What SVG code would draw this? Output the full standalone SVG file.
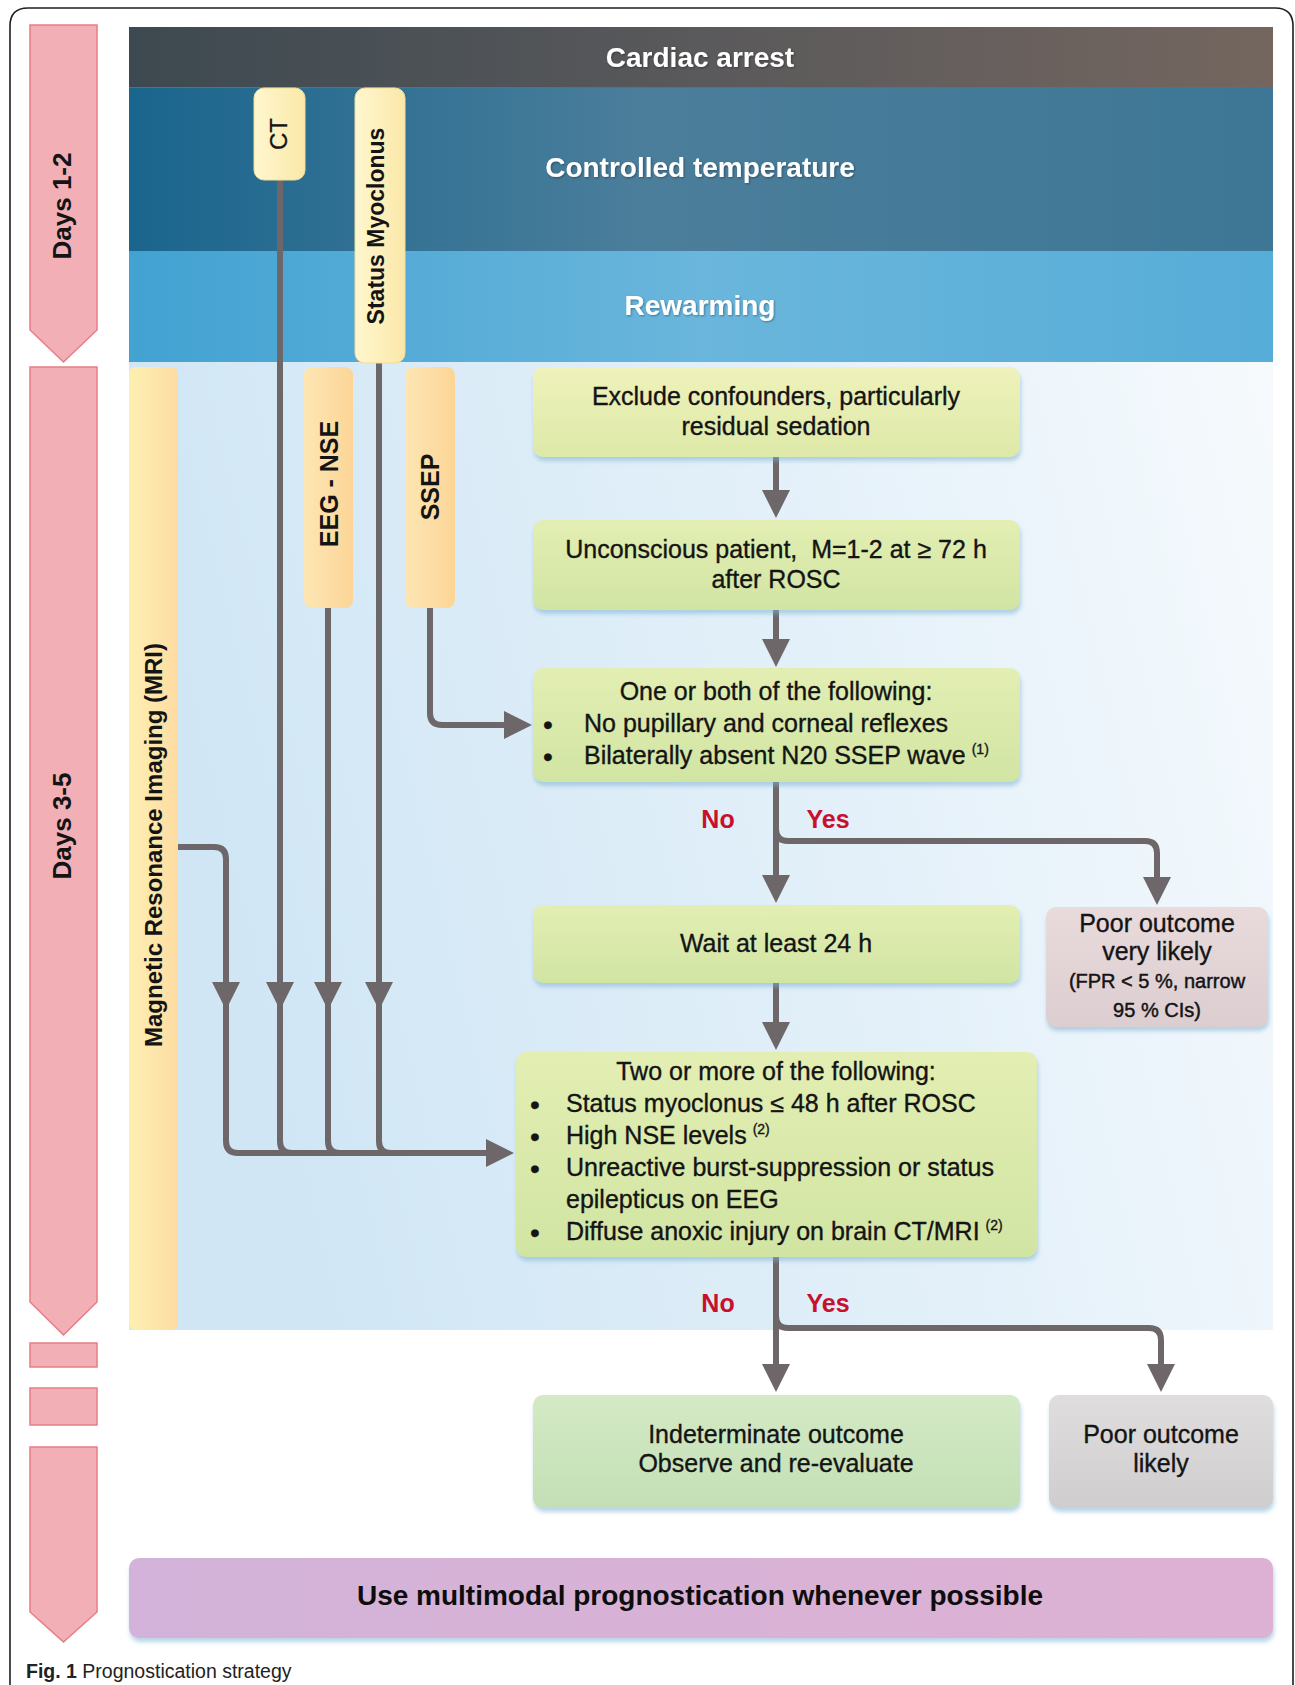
<svg xmlns="http://www.w3.org/2000/svg" width="1295" height="1685" viewBox="0 0 1295 1685">
<style>
  text { font-family: "Liberation Sans", Arial, sans-serif; fill: #141414; }
  .hdr { font-weight: bold; font-size: 28px; fill: #ffffff; text-anchor: middle; }
  .bx { font-size: 25px; stroke: #141414; stroke-width: 0.35px; }
  .c { text-anchor: middle; }
  .sm { font-size: 20px; stroke: #141414; stroke-width: 0.45px; }
  .sup { font-size: 14px; }
  .bl { font-size: 28px; }
  .yn { font-weight: bold; font-size: 25px; fill: #c8102e; text-anchor: middle; }
  .tag { font-size: 24px; font-weight: bold; text-anchor: middle; }
  .tagr { font-size: 24px; text-anchor: middle; stroke: #141414; stroke-width: 0.3px; }
  .day { font-size: 26px; font-weight: bold; text-anchor: middle; }
  .bar { font-weight: bold; font-size: 28px; text-anchor: middle; fill: #0d0d0d; }
  .cap { font-size: 19.5px; fill: #222; }
  .ln { fill: none; stroke: #6d6769; stroke-width: 6; stroke-linejoin: round; }
  .arw { marker-end: url(#ah); }
  .daysh { fill: #f2afb5; stroke: #e97c86; stroke-width: 1.5; }
  .box { filter: url(#sh); }
</style>
<defs>
  <marker id="ah" viewBox="0 0 28 28" refX="4" refY="14" markerWidth="28" markerHeight="28" markerUnits="userSpaceOnUse" orient="auto">
    <path d="M0,0 L28,14 L0,28 Z" fill="#6d6769"/>
  </marker>
  <filter id="sh" x="-5%" y="-5%" width="110%" height="120%">
    <feDropShadow dx="1" dy="4" stdDeviation="2" flood-color="#7fb3d3" flood-opacity="0.55"/>
  </filter>
  <filter id="ts" x="-5%" y="-20%" width="110%" height="140%">
    <feDropShadow dx="1" dy="1" stdDeviation="1" flood-color="#000" flood-opacity="0.35"/>
  </filter>
  <linearGradient id="gCardiac" x1="0" y1="0" x2="1" y2="0">
    <stop offset="0" stop-color="#3d4950"/>
    <stop offset="0.5" stop-color="#5a595b"/>
    <stop offset="1" stop-color="#74665f"/>
  </linearGradient>
  <linearGradient id="gTemp" x1="0" y1="0" x2="1" y2="0">
    <stop offset="0" stop-color="#1a658d"/>
    <stop offset="0.45" stop-color="#4b7e9b"/>
    <stop offset="1" stop-color="#3d7795"/>
  </linearGradient>
  <linearGradient id="gRewarm" x1="0" y1="0" x2="1" y2="0">
    <stop offset="0" stop-color="#42a2d2"/>
    <stop offset="0.5" stop-color="#6ab6dc"/>
    <stop offset="1" stop-color="#56add8"/>
  </linearGradient>
  <linearGradient id="gBg" x1="0" y1="0.2" x2="1" y2="0">
    <stop offset="0" stop-color="#d0e6f5"/>
    <stop offset="0.55" stop-color="#e3f0f9"/>
    <stop offset="1" stop-color="#f6fafd"/>
  </linearGradient>
  <linearGradient id="gY" x1="0" y1="0" x2="0" y2="1">
    <stop offset="0" stop-color="#eff2bb"/>
    <stop offset="1" stop-color="#dde9a8"/>
  </linearGradient>
  <linearGradient id="gG" x1="0" y1="0" x2="0" y2="1">
    <stop offset="0" stop-color="#e3eeb3"/>
    <stop offset="1" stop-color="#d1e5a3"/>
  </linearGradient>
  <linearGradient id="gMint" x1="0" y1="0" x2="0" y2="1">
    <stop offset="0" stop-color="#d4eac6"/>
    <stop offset="1" stop-color="#c3dfb5"/>
  </linearGradient>
  <linearGradient id="gPink" x1="0" y1="0" x2="0" y2="1">
    <stop offset="0" stop-color="#e9dadc"/>
    <stop offset="1" stop-color="#dccdd0"/>
  </linearGradient>
  <linearGradient id="gGray" x1="0" y1="0" x2="0" y2="1">
    <stop offset="0" stop-color="#dfdddd"/>
    <stop offset="1" stop-color="#cfcdce"/>
  </linearGradient>
  <linearGradient id="gPurple" x1="0" y1="0" x2="1" y2="0">
    <stop offset="0" stop-color="#d3b3d9"/>
    <stop offset="1" stop-color="#ddb1d3"/>
  </linearGradient>
  <linearGradient id="gPeach" x1="0" y1="0" x2="1" y2="0">
    <stop offset="0" stop-color="#fde6b3"/>
    <stop offset="1" stop-color="#fcd597"/>
  </linearGradient>
  <linearGradient id="gCream" x1="0" y1="0" x2="1" y2="0">
    <stop offset="0" stop-color="#fff7cf"/>
    <stop offset="1" stop-color="#fbe8a8"/>
  </linearGradient>
  <linearGradient id="gMRI" x1="0" y1="0" x2="1" y2="0">
    <stop offset="0" stop-color="#fdf0b2"/>
    <stop offset="1" stop-color="#fddca2"/>
  </linearGradient>
</defs>

<rect x="0" y="0" width="1295" height="1685" fill="#ffffff"/>
<path d="M10,1685 V26 Q10,8 28,8 H1275 Q1293,8 1293,26 V1685" fill="none" stroke="#1e1e1e" stroke-width="1.6"/>

<!-- Day arrows -->
<g id="days-1-2">
  <path class="daysh" d="M30,25 H97 V330 L63.5,362 L30,330 Z"/>
  <text class="day" transform="translate(71,206) rotate(-90)">Days 1-2</text>
</g>
<g id="days-3-5">
  <path class="daysh" d="M30,367 H97 V1302 L63.5,1335 L30,1302 Z"/>
  <text class="day" transform="translate(71,826) rotate(-90)">Days 3-5</text>
</g>
<g id="days-gap">
  <rect class="daysh" x="30" y="1343" width="67" height="24"/>
  <rect class="daysh" x="30" y="1388" width="67" height="37"/>
  <path class="daysh" d="M30,1447 H97 V1612 L63.5,1642 L30,1612 Z"/>
</g>

<!-- Phase bands -->
<g id="band-cardiac-arrest">
  <rect x="129" y="27" width="1144" height="61" fill="url(#gCardiac)"/>
  <line x1="129" y1="87.5" x2="1273" y2="87.5" stroke="#8b5e5a" stroke-width="1.2"/>
  <text class="hdr" x="700" y="67" filter="url(#ts)">Cardiac arrest</text>
</g>
<g id="band-controlled-temperature">
  <rect x="129" y="88" width="1144" height="163" fill="url(#gTemp)"/>
  <text class="hdr" x="700" y="177" filter="url(#ts)">Controlled temperature</text>
</g>
<g id="band-rewarming">
  <rect x="129" y="251" width="1144" height="111" fill="url(#gRewarm)"/>
  <text class="hdr" x="700" y="315" filter="url(#ts)">Rewarming</text>
</g>

<g id="days-3-5-area">
  <rect x="129" y="362" width="1144" height="968" fill="url(#gBg)"/>
</g>

<!-- Connectors -->
<g id="connectors">
  <path class="ln arw" d="M776,457 V494"/>
  <path class="ln arw" d="M776,610 V643"/>
  <path class="ln arw" d="M430,608 V713 Q430,725 442,725 H508"/>
  <path class="ln arw" d="M776,782 V879"/>
  <path class="ln arw" d="M776,829 Q776,841 788,841 H1145 Q1157,841 1157,853 V881"/>
  <path class="ln arw" d="M776,983 V1026"/>
  <path class="ln arw" d="M776,1257 V1368"/>
  <path class="ln arw" d="M776,1316 Q776,1328 788,1328 H1149 Q1161,1328 1161,1340 V1368"/>
  <!-- inputs to "Two or more" -->
  <path class="ln arw" d="M178,847 H214 Q226,847 226,859 V986"/>
  <path class="ln arw" d="M280,180 V986"/>
  <path class="ln arw" d="M328,608 V986"/>
  <path class="ln arw" d="M379,363 V986"/>
  <path class="ln" d="M280,986 V1141 Q280,1153 292,1153"/>
  <path class="ln" d="M328,986 V1141 Q328,1153 340,1153"/>
  <path class="ln" d="M379,986 V1141 Q379,1153 391,1153"/>
  <path class="ln arw" d="M226,986 V1141 Q226,1153 238,1153 H490"/>
  <text class="yn" x="718" y="828">No</text>
  <text class="yn" x="828" y="828">Yes</text>
  <text class="yn" x="718" y="1312">No</text>
  <text class="yn" x="828" y="1312">Yes</text>
</g>

<!-- Test tags -->
<g id="tag-ct">
  <rect x="254" y="88" width="51" height="92" rx="10" fill="url(#gCream)" stroke="#f3dc96" stroke-width="1"/>
  <text class="tagr" transform="translate(287,134) rotate(-90)">CT</text>
</g>
<g id="tag-status-myoclonus">
  <rect x="355" y="88" width="50" height="275" rx="10" fill="url(#gCream)" stroke="#f3dc96" stroke-width="1"/>
  <text class="tag" style="font-size:23px" transform="translate(384,226) rotate(-90)">Status Myoclonus</text>
</g>
<g id="tag-mri">
  <rect x="129" y="367" width="49" height="963" rx="6" fill="url(#gMRI)"/>
  <text class="tag" transform="translate(162,845) rotate(-90)">Magnetic Resonance Imaging (MRI)</text>
</g>
<g id="tag-eeg-nse">
  <rect x="304" y="367" width="49" height="241" rx="8" fill="url(#gPeach)"/>
  <text class="tag" style="font-size:25px" transform="translate(338,484) rotate(-90)">EEG - NSE</text>
</g>
<g id="tag-ssep">
  <rect x="405" y="367" width="50" height="241" rx="8" fill="url(#gPeach)"/>
  <text class="tag" style="font-size:25px" transform="translate(439,487) rotate(-90)">SSEP</text>
</g>

<!-- Flow boxes -->
<g id="node-exclude">
  <rect class="box" x="533" y="367" width="487" height="90" rx="10" fill="url(#gY)"/>
  <text class="bx c" x="776" y="405">Exclude confounders, particularly</text>
  <text class="bx c" x="776" y="435">residual sedation</text>
</g>
<g id="node-unconscious">
  <rect class="box" x="533" y="520" width="487" height="90" rx="10" fill="url(#gG)"/>
  <text class="bx c" x="776" y="558" xml:space="preserve">Unconscious patient,  M=1-2 at ≥ 72 h</text>
  <text class="bx c" x="776" y="588">after ROSC</text>
</g>
<g id="node-one-or-both">
  <rect class="box" x="533" y="668" width="487" height="114" rx="10" fill="url(#gG)"/>
  <text class="bx c" x="776" y="700">One or both of the following:</text>
  <text class="bx" y="732"><tspan class="bl" x="543" dy="2">•</tspan><tspan x="584" dy="-2">No pupillary and corneal reflexes</tspan></text>
  <text class="bx" y="764"><tspan class="bl" x="543" dy="2">•</tspan><tspan x="584" dy="-2">Bilaterally absent N20 SSEP wave</tspan><tspan class="sup" dx="6" dy="-10">(1)</tspan></text>
</g>
<g id="node-wait">
  <rect class="box" x="533" y="905" width="487" height="78" rx="10" fill="url(#gG)"/>
  <text class="bx c" x="776" y="952">Wait at least 24 h</text>
</g>
<g id="node-poor-very-likely">
  <rect class="box" x="1046" y="907" width="222" height="120" rx="10" fill="url(#gPink)"/>
  <text class="bx c" x="1157" y="932">Poor outcome</text>
  <text class="bx c" x="1157" y="960">very likely</text>
  <text class="sm c" x="1157" y="988">(FPR &lt; 5 %, narrow</text>
  <text class="sm c" x="1157" y="1017">95 % CIs)</text>
</g>
<g id="node-two-or-more">
  <rect class="box" x="516" y="1052" width="521" height="205" rx="10" fill="url(#gG)"/>
  <text class="bx c" x="776" y="1080">Two or more of the following:</text>
  <text class="bx" y="1112"><tspan class="bl" x="530" dy="2">•</tspan><tspan x="566" dy="-2">Status myoclonus ≤ 48 h after ROSC</tspan></text>
  <text class="bx" y="1144"><tspan class="bl" x="530" dy="2">•</tspan><tspan x="566" dy="-2">High NSE levels</tspan><tspan class="sup" dx="6" dy="-10">(2)</tspan></text>
  <text class="bx" y="1176"><tspan class="bl" x="530" dy="2">•</tspan><tspan x="566" dy="-2">Unreactive burst-suppression or status</tspan></text>
  <text class="bx" x="566" y="1208">epilepticus on EEG</text>
  <text class="bx" y="1240"><tspan class="bl" x="530" dy="2">•</tspan><tspan x="566" dy="-2">Diffuse anoxic injury on brain CT/MRI</tspan><tspan class="sup" dx="6" dy="-10">(2)</tspan></text>
</g>
<g id="node-indeterminate">
  <rect class="box" x="533" y="1395" width="487" height="113" rx="10" fill="url(#gMint)"/>
  <text class="bx c" x="776" y="1443">Indeterminate outcome</text>
  <text class="bx c" x="776" y="1472">Observe and re-evaluate</text>
</g>
<g id="node-poor-likely">
  <rect class="box" x="1049" y="1395" width="224" height="113" rx="10" fill="url(#gGray)"/>
  <text class="bx c" x="1161" y="1443">Poor outcome</text>
  <text class="bx c" x="1161" y="1472">likely</text>
</g>
<g id="node-multimodal">
  <rect class="box" x="129" y="1558" width="1144" height="80" rx="10" fill="url(#gPurple)"/>
  <text class="bar" x="700" y="1605">Use multimodal prognostication whenever possible</text>
</g>

<g id="caption">
  <text class="cap" x="26" y="1678"><tspan font-weight="bold">Fig. 1</tspan> Prognostication strategy</text>
</g>
</svg>
